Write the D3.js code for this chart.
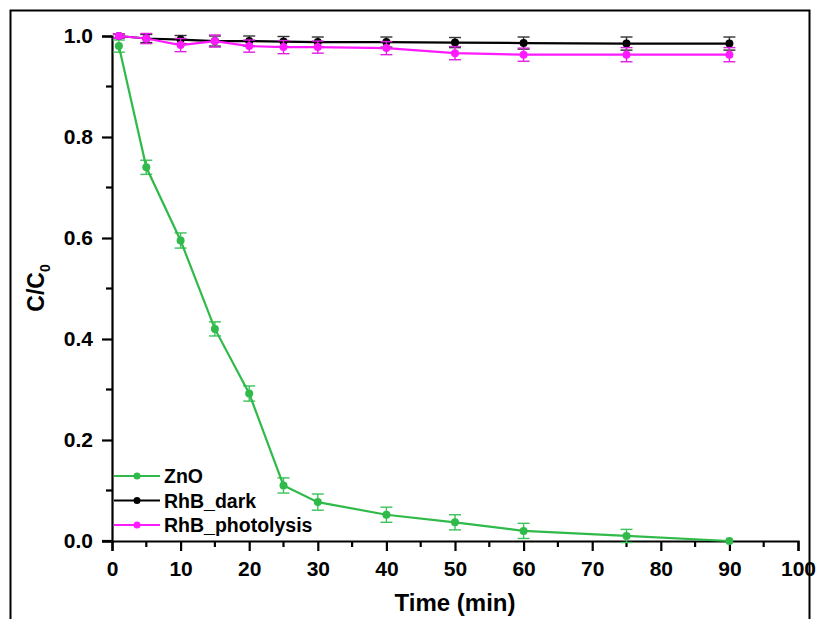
<!DOCTYPE html>
<html><head><meta charset="utf-8">
<script src="https://cdn.jsdelivr.net/npm/d3@7"></script>
<style>body{margin:0;background:#fff;} svg{display:block;font-family:Arial,"Liberation Sans",sans-serif;}</style>
</head><body><svg id="c" width="817" height="619"></svg>
<script>
const time = [1, 5, 10, 15, 20, 25, 30, 40, 50, 60, 75, 90];
const znO = [0.98, 0.74, 0.595, 0.42, 0.292, 0.11, 0.077, 0.052, 0.037, 0.02, 0.01, 0.0];
const znOErr = [0.012, 0.014, 0.015, 0.014, 0.015, 0.015, 0.016, 0.015, 0.015, 0.015, 0.013, 0.0];
const rhbDark = [1.0, 0.995, 0.993, 0.99, 0.99, 0.989, 0.988, 0.988, 0.987, 0.986, 0.985, 0.985];
const rhbDarkErr = [0.004, 0.008, 0.008, 0.01, 0.01, 0.01, 0.01, 0.01, 0.01, 0.012, 0.013, 0.013];
const rhbPhoto = [1.0, 0.995, 0.982, 0.99, 0.98, 0.978, 0.978, 0.976, 0.966, 0.963, 0.963, 0.963];
const rhbPhotoErr = [0.004, 0.01, 0.013, 0.012, 0.012, 0.013, 0.012, 0.013, 0.013, 0.013, 0.014, 0.014];
const xTicks = [0,10,20,30,40,50,60,70,80,90,100];
const yTicks = [0.0,0.2,0.4,0.6,0.8,1.0];
const seriesNames = ["ZnO","RhB_dark","RhB_photolysis"];
const seriesColors = ["#2fba4a","#000000","#ff1aff"];
const errColors = ["#3cc25a","#333333","#e020e0"];

const svg = d3.select("#c");
svg.append("rect").attr("x",10.5).attr("y",10.5).attr("width",799).attr("height",640)
  .attr("fill","none").attr("stroke","#000").attr("stroke-width",2);

const x = d3.scaleLinear().domain([0,100]).range([112,798]);
const y = d3.scaleLinear().domain([0,1]).range([541,36]);

// axes
const xAxis = d3.axisBottom(x).tickValues(xTicks).tickFormat(d3.format("d")).tickSize(10).tickPadding(10);
const gx = svg.append("g").attr("transform","translate(0,541)").call(xAxis);
const yAxis = d3.axisLeft(y).tickValues(yTicks).tickFormat(d3.format(".1f")).tickSize(10).tickPadding(9);
const gy = svg.append("g").attr("transform","translate(112,0)").call(yAxis);
[gx,gy].forEach(g=>{
  g.select(".domain").attr("stroke-width",2.2);
  g.selectAll(".tick line").attr("stroke-width",2.2);
  g.selectAll(".tick text").attr("font-size",21).attr("font-weight","bold").attr("fill","#000");
});
// extend x axis a bit to left
svg.append("line").attr("x1",102).attr("x2",112).attr("y1",541).attr("y2",541).attr("stroke","#000").attr("stroke-width",2.2);
// minor ticks
const xMinor = d3.range(5,100,10);
svg.append("g").selectAll("line").data(xMinor).join("line")
  .attr("x1",d=>x(d)).attr("x2",d=>x(d)).attr("y1",541).attr("y2",547)
  .attr("stroke","#000").attr("stroke-width",2.2);
const yMinor = [0.1,0.3,0.5,0.7,0.9];
svg.append("g").selectAll("line").data(yMinor).join("line")
  .attr("x1",106).attr("x2",112).attr("y1",d=>y(d)).attr("y2",d=>y(d))
  .attr("stroke","#000").attr("stroke-width",2.2);

// axis titles
svg.append("text").attr("x",x(50)).attr("y",611).attr("text-anchor","middle")
  .attr("font-size",24).attr("font-weight","bold").text("Time (min)");
const yt = svg.append("text").attr("transform","translate(44,288) rotate(-90)").attr("text-anchor","middle")
  .attr("font-size",23).attr("font-weight","bold");
yt.append("tspan").text("C/C");
yt.append("tspan").attr("font-size",14).attr("dy",6).text("0");

const data = [
  {vals: znO, err: znOErr},
  {vals: rhbDark, err: rhbDarkErr},
  {vals: rhbPhoto, err: rhbPhotoErr}
];
const line = d3.line().x(d=>x(d.t)).y(d=>y(d.v));
data.forEach((s,i)=>{
  const pts = time.map((t,j)=>({t, v:s.vals[j], e:s.err[j]}));
  const g = svg.append("g");
  // error bars
  const eb = g.selectAll("g.eb").data(pts.filter(p=>p.e>0)).join("g").attr("stroke",errColors[i]).attr("stroke-width",1.4);
  eb.append("line").attr("x1",d=>x(d.t)).attr("x2",d=>x(d.t)).attr("y1",d=>y(d.v-d.e)).attr("y2",d=>y(d.v+d.e));
  eb.append("line").attr("x1",d=>x(d.t)-6).attr("x2",d=>x(d.t)+6).attr("y1",d=>y(d.v-d.e)).attr("y2",d=>y(d.v-d.e));
  eb.append("line").attr("x1",d=>x(d.t)-6).attr("x2",d=>x(d.t)+6).attr("y1",d=>y(d.v+d.e)).attr("y2",d=>y(d.v+d.e));
  g.append("path").datum(pts).attr("d",line).attr("fill","none").attr("stroke",seriesColors[i]).attr("stroke-width",2.2);
  g.selectAll("circle").data(pts).join("circle").attr("cx",d=>x(d.t)).attr("cy",d=>y(d.v)).attr("r",4).attr("fill",seriesColors[i]);
});

// legend
const leg = svg.append("g");
seriesNames.forEach((n,i)=>{
  const yy = 476 + i*24.5;
  leg.append("line").attr("x1",114).attr("x2",160).attr("y1",yy).attr("y2",yy).attr("stroke",seriesColors[i]).attr("stroke-width",2.2);
  leg.append("circle").attr("cx",137).attr("cy",yy).attr("r",3.5).attr("fill",seriesColors[i]);
  leg.append("text").attr("x",164).attr("y",yy+7).attr("font-size",19.5).attr("font-weight","bold").text(n);
});
</script></body></html>
